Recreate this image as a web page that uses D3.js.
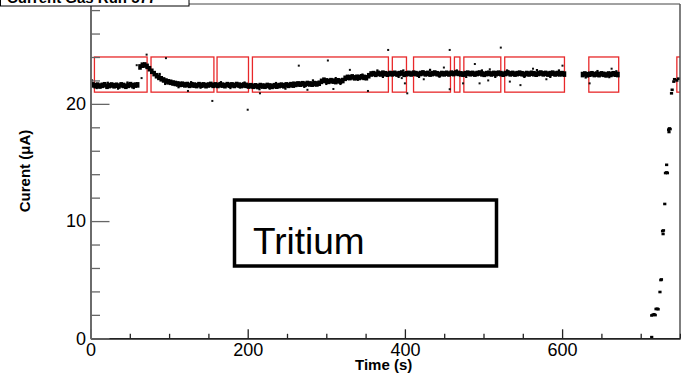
<!DOCTYPE html>
<html>
<head>
<meta charset="utf-8">
<script src="https://cdn.jsdelivr.net/npm/d3@7"></script>
<style>
  body { margin: 0; background: #fff; }
  svg { display: block; font-family: "Liberation Sans", Arial, Helvetica, sans-serif; }
</style>
</head>
<body>
<div id="chart"></div>
<script>
// Current vs time

// main band, one reading every 3 s
const bandTime = [
  0, 3, 6, 9, 12, 15, 18, 21, 24, 27,
  30, 33, 36, 39, 42, 45, 48, 51, 54, 57,
  60, 63, 66, 69, 72, 75, 78, 81, 84, 87,
  90, 93, 96, 99, 102, 105, 108, 111, 114, 117,
  120, 123, 126, 129, 132, 135, 138, 141, 144, 147,
  150, 153, 156, 159, 162, 165, 168, 171, 174, 177,
  180, 183, 186, 189, 192, 195, 198, 201, 204, 207,
  210, 213, 216, 219, 222, 225, 228, 231, 234, 237,
  240, 243, 246, 249, 252, 255, 258, 261, 264, 267,
  270, 273, 276, 279, 282, 285, 288, 291, 294, 297,
  300, 303, 306, 309, 312, 315, 318, 321, 324, 327,
  330, 333, 336, 339, 342, 345, 348, 351, 354, 357,
  360, 363, 366, 369, 372, 375, 378, 381, 384, 387,
  390, 393, 396, 399, 402, 405, 408, 411, 414, 417,
  420, 423, 426, 429, 432, 435, 438, 441, 444, 447,
  450, 453, 456, 459, 462, 465, 468, 471, 474, 477,
  480, 483, 486, 489, 492, 495, 498, 501, 504, 507,
  510, 513, 516, 519, 522, 525, 528, 531, 534, 537,
  540, 543, 546, 549, 552, 555, 558, 561, 564, 567,
  570, 573, 576, 579, 582, 585, 588, 591, 594, 597,
  600, 603,
  626, 629, 632, 635, 638, 641, 644, 647, 650, 653,
  656, 659, 662, 665, 668, 671
];
const bandCurrent = [
  21.85, 21.62, 21.55, 21.60, 21.52, 21.58, 21.63, 21.50, 21.56, 21.61,
  21.54, 21.59, 21.52, 21.62, 21.57, 21.50, 21.58, 21.64, 21.55, 21.60,
  21.62, 23.15, 23.30, 23.32, 23.20, 23.00, 22.78, 22.58, 22.40, 22.26,
  22.14, 22.04, 21.95, 21.88, 21.84, 21.78, 21.74, 21.70, 21.66, 21.68,
  21.62, 21.65, 21.58, 21.63, 21.60, 21.56, 21.64, 21.59, 21.62, 21.55,
  21.61, 21.66, 21.58, 21.62, 21.57, 21.63, 21.60, 21.55, 21.64, 21.59,
  21.62, 21.57, 21.65, 21.60, 21.56, 21.61, 21.58, 21.52, 21.55, 21.50,
  21.54, 21.48, 21.56, 21.52, 21.50, 21.57, 21.53, 21.49, 21.55, 21.51,
  21.56, 21.60, 21.54, 21.62, 21.58, 21.64, 21.60, 21.66, 21.70, 21.68,
  21.72, 21.67, 21.74, 21.70, 21.68, 21.73, 21.70, 21.76, 21.92, 22.02,
  21.96, 21.92, 21.98, 21.94, 21.90, 21.97, 21.93, 21.99, 22.18, 22.26,
  22.24, 22.30, 22.22, 22.27, 22.25, 22.31, 22.26, 22.23, 22.40, 22.55,
  22.58, 22.52, 22.60, 22.55, 22.62, 22.57, 22.53, 22.59, 22.56, 22.61,
  22.54, 22.58, 22.63, 22.52, 22.57, 22.60, 22.55, 22.62, 22.58, 22.53,
  22.59, 22.64, 22.56, 22.60, 22.54, 22.58, 22.63, 22.57, 22.52, 22.59,
  22.56, 22.61, 22.55, 22.62, 22.58, 22.64, 22.60, 22.56, 22.53, 22.58,
  22.62, 22.57, 22.60, 22.54, 22.59, 22.63, 22.56, 22.52, 22.58, 22.61,
  22.55, 22.60, 22.57, 22.62, 22.58, 22.53, 22.59, 22.64, 22.56, 22.60,
  22.54, 22.58, 22.62, 22.57, 22.52, 22.59, 22.55, 22.61, 22.57, 22.53,
  22.59, 22.63, 22.56, 22.60, 22.54, 22.58, 22.62, 22.55, 22.59, 22.56,
  22.58, 22.54,
  22.50, 22.55, 22.48, 22.53, 22.57, 22.50, 22.54, 22.49, 22.56, 22.52,
  22.47, 22.55, 22.51, 22.57, 22.53, 22.50
];

// readings just off the band edge [time, current]
const fringePoints = [
  [8, 21.35], [22, 21.8], [35, 21.3], [47, 21.82], [55, 21.35], [88, 22.55],
  [95, 21.7], [112, 21.42], [128, 21.85], [140, 21.38], [166, 21.85], [178, 21.35],
  [190, 21.4], [196, 21.82], [215, 21.25], [228, 21.3], [236, 21.78], [248, 21.3],
  [258, 21.82], [272, 21.45], [283, 22.0], [300, 21.7], [312, 22.2], [318, 21.7],
  [340, 22.05], [346, 22.5], [365, 22.85], [372, 22.3], [392, 22.3], [398, 22.85],
  [418, 22.3], [432, 22.9], [444, 22.32], [466, 22.85], [478, 22.3], [498, 22.85],
  [515, 22.3], [530, 22.85], [552, 22.3], [568, 22.88], [585, 22.3], [596, 22.85],
  [630, 22.25], [645, 22.8], [660, 22.28], [669, 22.78]
];

// isolated stray readings
const strayPoints = [
  [2, 22.0], [58.8, 23.3], [65, 22.2], [71.4, 24.2], [96, 23.9], [124, 21.1],
  [155, 20.25], [200, 19.5], [215.6, 20.9], [265, 23.26], [276, 21.2], [302, 23.7],
  [309, 21.27], [330, 22.9], [353, 21.1], [378.7, 24.6], [396, 22.2], [400, 21.75],
  [403, 20.9], [424, 22.1], [449.6, 23.1], [457, 24.6], [457, 21.25], [474, 21.75],
  [489, 23.4], [495, 21.75], [506, 22.0], [508, 22.95], [522, 24.8], [533.5, 21.9],
  [547, 21.6], [563, 23.0], [580, 22.1], [600.5, 23.26], [635, 21.75], [663, 23.0]
];

// ramp back up after the beam came back
const rampPoints = [
  [714, 0.1], [714, 1.95], [715.5, 2.0], [717, 2.05], [718.5, 1.98],
  [719.5, 2.5], [721, 2.52], [722.2, 2.48], [724.5, 3.95],
  [725.6, 4.97], [726.4, 5.02], [727.8, 9.15], [729, 9.2], [728.5, 8.9],
  [730.6, 11.46], [731.5, 14.1], [733, 14.15], [734, 14.1], [733, 14.8],
  [735.5, 17.8], [736.5, 17.9], [737.5, 17.85], [736, 17.6],
  [739.2, 20.9], [740, 21.2], [742.1, 21.9], [743, 22.1], [746, 22.0], [748, 22.15]
];

// selection windows [start, end] in s
const windows = [
  [5, 72], [77, 157], [161, 201], [206, 379], [384, 402], [411, 458],
  [463, 470], [475, 522], [527, 603], [634, 672], [746, 760]
];
const windowLow = 21.0;
const windowHigh = 24.0;

const xMajorTicks = [0, 200, 400, 600];
const xMinorTicks = [50, 100, 150, 250, 300, 350, 450, 500, 550, 650, 700, 750];
const yMajorTicks = [0, 10, 20];
const yMinorTicks = [2, 4, 6, 8, 12, 14, 16, 18, 22, 24, 26, 28];

const width = 681, height = 375;
const margin = { top: 4, right: 1, bottom: 36.7, left: 90.5 };
const innerWidth = width - margin.left - margin.right;
const innerHeight = height - margin.top - margin.bottom;

const svg = d3.select("#chart").append("svg")
    .attr("width", width)
    .attr("height", height);

const x = d3.scaleLinear().domain([0, 750]).range([0, innerWidth]);
const y = d3.scaleLinear().domain([0, 28.52]).range([innerHeight, 0]);

const g = svg.append("g")
    .attr("transform", `translate(${margin.left},${margin.top})`);

g.append("defs").append("clipPath").attr("id", "plot-clip")
  .append("rect").attr("width", innerWidth).attr("height", innerHeight);

const plot = g.append("g").attr("clip-path", "url(#plot-clip)");

// red selection boxes
plot.selectAll("rect.win")
  .data(windows)
  .join("rect")
    .attr("class", "win")
    .attr("x", d => x(d[0]))
    .attr("y", y(windowHigh))
    .attr("width", d => x(d[1]) - x(d[0]))
    .attr("height", y(windowLow) - y(windowHigh))
    .attr("fill", "none")
    .attr("stroke", "#e8282a")
    .attr("stroke-width", 1.3);

// band readings
plot.selectAll("rect.band")
  .data(bandTime.map((t, i) => [t, bandCurrent[i]]))
  .join("rect")
    .attr("class", "band")
    .attr("x", d => x(d[0]) - 1.8)
    .attr("y", d => y(d[1]) - 2.8)
    .attr("width", 3.6)
    .attr("height", 5.6)
    .attr("fill", "#000");

plot.selectAll("rect.fringe")
  .data(fringePoints)
  .join("rect")
    .attr("class", "fringe")
    .attr("x", d => x(d[0]) - 1.1)
    .attr("y", d => y(d[1]) - 1.1)
    .attr("width", 2.2)
    .attr("height", 2.2)
    .attr("fill", "#000");

plot.selectAll("rect.stray")
  .data(strayPoints)
  .join("rect")
    .attr("class", "stray")
    .attr("x", d => x(d[0]) - 1)
    .attr("y", d => y(d[1]) - 1)
    .attr("width", 2)
    .attr("height", 2)
    .attr("fill", "#111");

plot.selectAll("rect.ramp")
  .data(rampPoints)
  .join("rect")
    .attr("class", "ramp")
    .attr("x", d => x(d[0]) - 1.6)
    .attr("y", d => y(d[1]) - 1.3)
    .attr("width", 3.2)
    .attr("height", 2.6)
    .attr("fill", "#000");

// frame: top and right edges
g.append("line")
    .attr("x1", 0).attr("x2", innerWidth)
    .attr("y1", 0).attr("y2", 0)
    .attr("stroke", "#444").attr("stroke-width", 1);
g.append("line")
    .attr("x1", innerWidth).attr("x2", innerWidth)
    .attr("y1", 0).attr("y2", innerHeight)
    .attr("stroke", "#555").attr("stroke-width", 1.5);

// axes, ticks point inward like ROOT
const xMinor = d3.axisBottom(x).tickValues(xMinorTicks).tickSizeInner(-4.5).tickSizeOuter(0).tickFormat("");
const xMajor = d3.axisBottom(x).tickValues(xMajorTicks).tickSizeInner(-9).tickSizeOuter(0).tickPadding(5);
const yMinor = d3.axisLeft(y).tickValues(yMinorTicks).tickSizeInner(-9.5).tickSizeOuter(0).tickFormat("");
const yMajor = d3.axisLeft(y).tickValues(yMajorTicks).tickSizeInner(-19).tickSizeOuter(0).tickPadding(4.5);

function styleAxis(sel, color) {
  sel.select(".domain").attr("stroke", color).attr("stroke-width", 1.6);
  sel.selectAll(".tick line").attr("stroke", color).attr("stroke-width", 1.3);
  sel.selectAll(".tick text").attr("fill", "#000")
     .style("font-family", "'Liberation Sans', Arial, sans-serif").style("font-size", "18px");
}

g.append("g").attr("transform", `translate(0,${innerHeight})`).call(xMinor).call(styleAxis, "#222");
g.append("g").attr("transform", `translate(0,${innerHeight})`).call(xMajor).call(styleAxis, "#222");
g.append("g").call(yMinor).call(styleAxis, "#666");
g.append("g").call(yMajor).call(styleAxis, "#666");

// axis titles
svg.append("text")
    .attr("x", 355)
    .attr("y", 369.5)
    .attr("font-size", 15)
    .attr("font-weight", "bold")
    .text("Time (s)");

svg.append("text")
    .attr("transform", "translate(30,171) rotate(-90)")
    .attr("text-anchor", "middle")
    .attr("font-size", 15)
    .attr("font-weight", "bold")
    .text("Curent (μA)");

// label box in the plot
svg.append("rect")
    .attr("x", 234.5).attr("y", 200)
    .attr("width", 262).attr("height", 66)
    .attr("fill", "#fff")
    .attr("stroke", "#000")
    .attr("stroke-width", 3.5);
svg.append("text")
    .attr("x", 253)
    .attr("y", 254)
    .attr("font-size", 37)
    .text("Tritium");

// title box, cut off by the top of the picture
svg.append("rect")
    .attr("x", 0.5).attr("y", -20)
    .attr("width", 188.5).attr("height", 26)
    .attr("fill", "#fff")
    .attr("stroke", "#000")
    .attr("stroke-width", 1);
svg.append("text")
    .attr("x", 7)
    .attr("y", 3)
    .attr("font-size", 15)
    .attr("font-weight", "bold")
    .text("Current Gas Run 577");
</script>
</body>
</html>
